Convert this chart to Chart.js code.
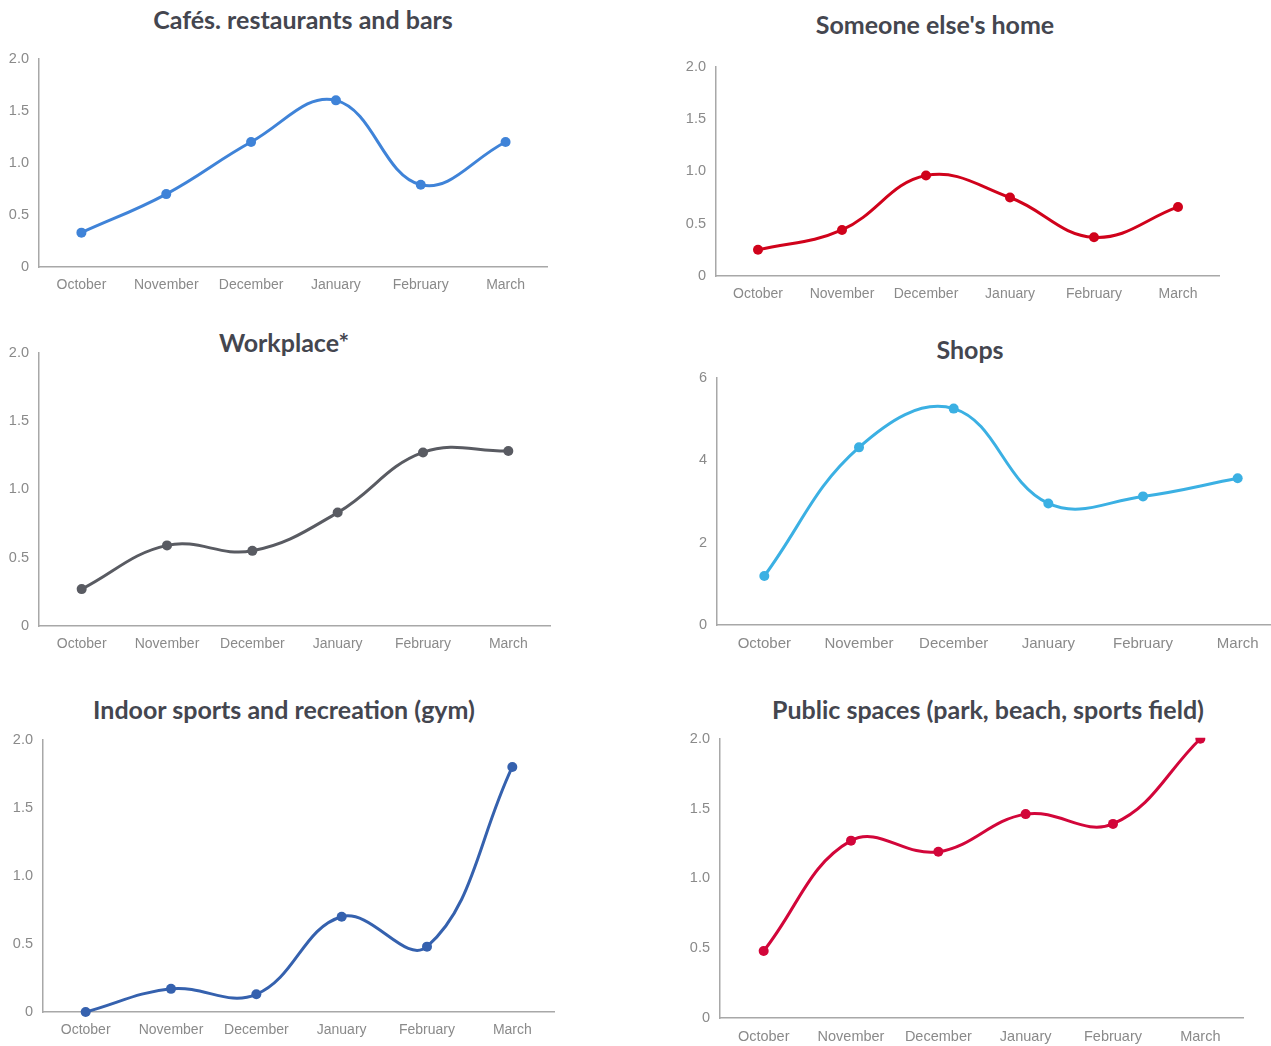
<!DOCTYPE html>
<html lang="en">
<head>
  <meta charset="UTF-8" />
  <title>Places visited by month</title>
  <script src="https://cdn.jsdelivr.net/npm/chart.js"></script>
  <style>
    html, body { margin: 0; padding: 0; background: #fff; overflow: hidden; }
    body { position: relative; width: 1271px; height: 1046px; }
    .title {
      position: absolute;
      transform: translate(-50%, -50%);
      font-family: Lato, "Open Sans", sans-serif;
      font-weight: 700;
      font-size: 25px;
      color: #44464f;
      white-space: nowrap;
    }
    canvas { position: absolute; }
  </style>
</head>
<body>
<script>
const months = ['October', 'November', 'December', 'January', 'February', 'March'];

const cafes     = [0.33, 0.70, 1.20, 1.60, 0.79, 1.20];
const otherHome = [0.25, 0.44, 0.96, 0.75, 0.37, 0.66];
const workplace = [0.27, 0.59, 0.55, 0.83, 1.27, 1.28];
const shops     = [1.19, 4.31, 5.25, 2.95, 3.12, 3.56];
const gym       = [0.00, 0.17, 0.13, 0.70, 0.48, 1.80];
const publicSp  = [0.48, 1.27, 1.19, 1.46, 1.39, 2.00];

const ticksTwo  = [0, 0.5, 1.0, 1.5, 2.0];
const ticksSix  = [0, 2, 4, 6];

// area = [left, top, right, bottom] of the plot, title = [centerX, centerY]
const panels = [
  { title: 'Cafés. restaurants and bars', data: cafes, color: '#3f83d8', ticks: ticksTwo,
    area: [39, 58, 548, 267], titleAt: [303, 19], fs: 14 },
  { title: "Someone else's home", data: otherHome, color: '#d0021b', ticks: ticksTwo,
    area: [716, 66, 1220, 276], titleAt: [935, 24], fs: 14 },
  { title: 'Workplace*', data: workplace, color: '#595b62', ticks: ticksTwo,
    area: [39, 352, 551, 626], titleAt: [284, 342], fs: 14 },
  { title: 'Shops', data: shops, color: '#3bb0e3', ticks: ticksSix,
    area: [717, 377, 1285, 625], titleAt: [970, 349], fs: 15 },
  { title: 'Indoor sports and recreation (gym)', data: gym, color: '#3561ae', ticks: ticksTwo,
    area: [43, 739, 555, 1012], titleAt: [284, 709], fs: 14 },
  { title: 'Public spaces (park, beach, sports field)', data: publicSp, color: '#d2063a', ticks: ticksTwo,
    area: [720, 738, 1244, 1018], titleAt: [988, 709], fs: 14.5, clipTop: true }
];

// chart.js adds ~6px above the user padding for the top tick label
const Y_W = 40, PAD_T = 12, AUTO_T = 6, X_H = 30;

panels.forEach(p => {
  const [l, t, r, b] = p.area;

  const title = document.createElement('div');
  title.className = 'title';
  title.textContent = p.title;
  title.style.left = p.titleAt[0] + 'px';
  title.style.top = p.titleAt[1] + 'px';
  document.body.appendChild(title);

  const canvas = document.createElement('canvas');
  canvas.width = r - l + Y_W;
  canvas.height = b - t + PAD_T + AUTO_T + X_H;
  canvas.style.left = (l - Y_W) + 'px';
  canvas.style.top = (t - PAD_T - AUTO_T) + 'px';
  document.body.appendChild(canvas);

  const tickList = p.ticks;
  new Chart(canvas.getContext('2d'), {
    type: 'line',
    data: {
      labels: months,
      datasets: [{
        data: p.data,
        borderColor: p.color,
        backgroundColor: p.color,
        borderWidth: 3,
        tension: 0.4,
        pointRadius: 5,
        pointBorderWidth: 0,
        clip: p.clipTop ? { left: false, top: 1, right: false, bottom: false } : false
      }]
    },
    options: {
      responsive: false,
      animation: false,
      layout: { autoPadding: false, padding: { top: PAD_T, left: 0, right: 0, bottom: 0 } },
      plugins: { legend: { display: false }, tooltip: { enabled: false } },
      scales: {
        x: {
          offset: true,
          grid: { display: false, drawTicks: false },
          border: { display: true, color: '#a8a8a8', width: 1.5 },
          ticks: {
            padding: 10,
            color: '#8a8a8a',
            maxRotation: 0,
            autoSkip: false,
            font: { family: '"Liberation Sans", Arial, sans-serif', size: p.fs }
          },
          afterFit: s => { s.height = X_H; }
        },
        y: {
          min: tickList[0],
          max: tickList[tickList.length - 1],
          afterBuildTicks: s => { s.ticks = tickList.map(v => ({ value: v })); },
          grid: { display: false, drawTicks: false },
          border: { display: true, color: '#a8a8a8', width: 1.5 },
          ticks: {
            padding: 10,
            color: '#8a8a8a',
            font: { family: '"Liberation Sans", Arial, sans-serif', size: 14.5 },
            callback: v => (v === 0 || tickList === ticksSix) ? String(v) : v.toFixed(1)
          },
          afterFit: s => { s.width = Y_W; }
        }
      }
    }
  });
});
</script>
</body>
</html>
